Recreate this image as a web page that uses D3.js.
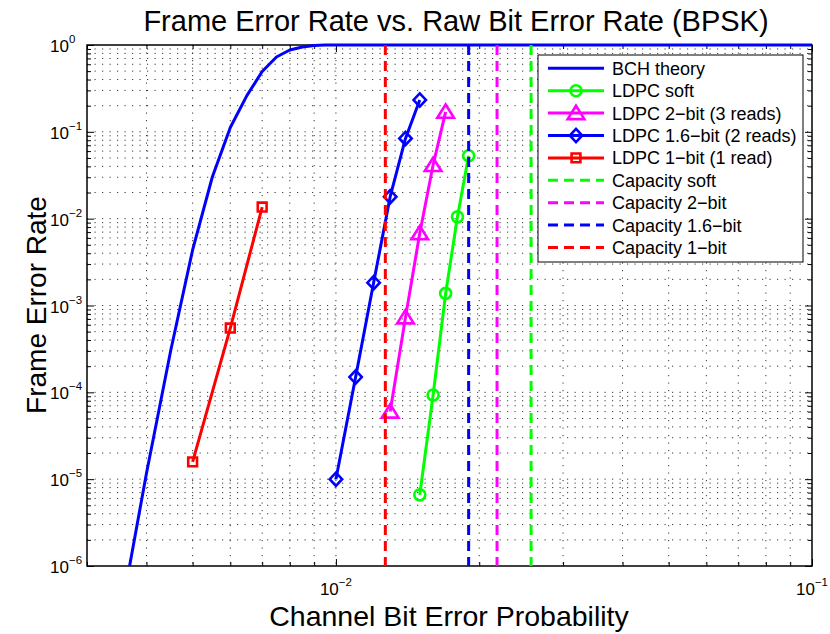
<!DOCTYPE html>
<html>
<head>
<meta charset="utf-8">
<script src="https://cdn.jsdelivr.net/npm/d3@7"></script>
<style>
  body { margin: 0; background: #fff; }
  svg { display: block; }
  text { font-family: "Liberation Sans", Arial, Helvetica, sans-serif; fill: #000; }
</style>
</head>
<body>
<svg id="chart" width="830" height="634"></svg>
<script>
// ---- data ----
const bchBer = [0.0035, 0.004, 0.0045, 0.005, 0.0055, 0.006, 0.0065, 0.007, 0.0075, 0.008, 0.0085, 0.009, 0.0095, 0.01, 0.02, 0.05, 0.1];
const bchFer = [2.1e-7, 1.17e-5, 3.07e-4, 4.36e-3, 0.0302, 0.112, 0.261, 0.495, 0.727, 0.876, 0.95, 0.985, 0.997, 1, 1, 1, 1];

const softBer = [0.015, 0.016, 0.017, 0.018, 0.019];
const softFer = [6.6e-6, 9.3e-5, 1.38e-3, 1.05e-2, 5.3e-2];

const twoBitBer = [0.013, 0.014, 0.015, 0.016, 0.017];
const twoBitFer = [6.0e-5, 7.3e-4, 6.8e-3, 4.15e-2, 0.17];

const oneSixBer = [0.010, 0.011, 0.012, 0.013, 0.014, 0.015];
const oneSixFer = [1.0e-5, 1.5e-4, 1.83e-3, 1.79e-2, 8.4e-2, 0.233];

const oneBitBer = [0.005, 0.006, 0.007];
const oneBitFer = [1.58e-5, 5.5e-4, 1.36e-2];

const capacityNames = ["Capacity soft", "Capacity 2\u2212bit", "Capacity 1.6\u2212bit", "Capacity 1\u2212bit"];
const capacityBer = [0.0257, 0.0218, 0.0190, 0.0127];
const capacityColors = ["#00ff00", "#ff00ff", "#0000ff", "#ff0000"];

const xMajorTicks = [0.01, 0.1];
const xTickExponents = ["\u22122", "\u22121"];
const yMajorTicks = [1e-6, 1e-5, 1e-4, 1e-3, 1e-2, 1e-1, 1];
const yTickExponents = ["\u22126", "\u22125", "\u22124", "\u22123", "\u22122", "\u22121", "0"];

const titleText = "Frame Error Rate vs. Raw Bit Error Rate (BPSK)";
const xLabelText = "Channel Bit Error Probability";
const yLabelText = "Frame Error Rate";

// ---- layout ----
const svg = d3.select("#chart");
const plot = { left: 87, right: 812, top: 45, bottom: 566 };

const x = d3.scaleLog().domain([0.003, 0.1]).range([plot.left, plot.right]);
const y = d3.scaleLog().domain([1e-6, 1]).range([plot.bottom, plot.top]);

// every tick position (majors plus 2..9 minors) inside the domain
function logTicks(lo, hi) {
  const out = [];
  for (let e = Math.floor(Math.log10(lo)); e <= Math.ceil(Math.log10(hi)); e++) {
    for (let m = 1; m <= 9; m++) {
      const v = m * Math.pow(10, e);
      if (v >= lo * 0.9999 && v <= hi * 1.0001) out.push(v);
    }
  }
  return out;
}
const xAll = logTicks(0.003, 0.1);
const yAll = logTicks(1e-6, 1);
const isMajor = v => Math.abs(Math.log10(v) - Math.round(Math.log10(v))) < 1e-9;

// ---- dotted grid ----
const grid = svg.append("g").attr("class", "grid")
  .attr("stroke", "#222").attr("stroke-width", 0.9).attr("stroke-dasharray", "1.2,6.3");
grid.selectAll("line.gx").data(xAll.filter(v => v > 0.003 && v < 0.1)).join("line")
  .attr("x1", d => x(d)).attr("x2", d => x(d))
  .attr("y1", plot.top).attr("y2", plot.bottom);
grid.selectAll("line.gy").data(yAll.filter(v => v > 1e-6 && v < 1)).join("line")
  .attr("x1", plot.left).attr("x2", plot.right)
  .attr("y1", d => y(d)).attr("y2", d => y(d));

// ---- axes box with inward ticks on all four sides ----
const majLen = 7, minLen = 4;
function addAxis(axisFn, scale, values, len, transform) {
  const g = svg.append("g").attr("transform", transform)
    .call(axisFn(scale).tickValues(values).tickSize(-len).tickFormat(""));
  g.select(".domain").remove();
  g.selectAll(".tick line").attr("stroke", "#000").attr("stroke-width", 1);
  return g;
}
const xMin = xAll.filter(v => !isMajor(v)), yMin = yAll.filter(v => !isMajor(v));
addAxis(d3.axisBottom, x, xMajorTicks, majLen, `translate(0,${plot.bottom})`);
addAxis(d3.axisBottom, x, xMin, minLen, `translate(0,${plot.bottom})`);
addAxis(d3.axisTop, x, xMajorTicks, majLen, `translate(0,${plot.top})`);
addAxis(d3.axisTop, x, xMin, minLen, `translate(0,${plot.top})`);
addAxis(d3.axisLeft, y, yMajorTicks, majLen, `translate(${plot.left},0)`);
addAxis(d3.axisLeft, y, yMin, minLen, `translate(${plot.left},0)`);
addAxis(d3.axisRight, y, yMajorTicks, majLen, `translate(${plot.right},0)`);
addAxis(d3.axisRight, y, yMin, minLen, `translate(${plot.right},0)`);

svg.append("rect")
  .attr("x", plot.left).attr("y", plot.top)
  .attr("width", plot.right - plot.left).attr("height", plot.bottom - plot.top)
  .attr("fill", "none").attr("stroke", "#000").attr("stroke-width", 1.5);

// ---- tick labels: 10 with superscript exponent ----
const xLab = svg.append("g");
xMajorTicks.forEach((v, i) => {
  const t = xLab.append("text").attr("x", x(v)).attr("y", 595)
    .attr("text-anchor", "middle").attr("font-size", 17);
  t.append("tspan").text("10");
  t.append("tspan").attr("dy", -9).attr("font-size", 11.5).text(xTickExponents[i]);
});
const yLab = svg.append("g");
yMajorTicks.forEach((v, i) => {
  const t = yLab.append("text").attr("x", 50).attr("y", y(v) + 7)
    .attr("text-anchor", "start").attr("font-size", 17);
  t.append("tspan").text("10");
  t.append("tspan").attr("dy", -9).attr("font-size", 11.5).text(yTickExponents[i]);
});

// ---- titles ----
svg.append("text").attr("x", 456).attr("y", 31).attr("text-anchor", "middle")
  .attr("font-size", 29).text(titleText);
svg.append("text").attr("x", 449).attr("y", 626).attr("text-anchor", "middle")
  .attr("font-size", 28.5).text(xLabelText);
svg.append("text").attr("transform", "translate(46,305) rotate(-90)")
  .attr("text-anchor", "middle").attr("font-size", 28).text(yLabelText);

// ---- data layer ----
svg.append("clipPath").attr("id", "plotClip").append("rect")
  .attr("x", plot.left - 2).attr("y", plot.top - 3)
  .attr("width", plot.right - plot.left + 4).attr("height", plot.bottom - plot.top + 3);
const data = svg.append("g").attr("clip-path", "url(#plotClip)");

const line = d3.line().x(d => x(d[0])).y(d => y(d[1]));
const zip = (a, b) => a.map((v, i) => [v, b[i]]);

function markerPath(type) {
  switch (type) {
    case "circle": return d3.symbol().type(d3.symbolCircle).size(Math.PI * 5.5 * 5.5)();
    case "square": return "M-4.4,-4.4H4.4V4.4H-4.4Z";
    case "diamond": return "M0,-6.6L6.2,0L0,6.6L-6.2,0Z";
    case "triangle": return "M0,-7.3L8.3,6L-8.3,6Z";
  }
  return "";
}

const series = [
  { name: "LDPC soft", ber: softBer, fer: softFer, color: "#00ff00", marker: "circle" },
  { name: "LDPC 2\u2212bit (3 reads)", ber: twoBitBer, fer: twoBitFer, color: "#ff00ff", marker: "triangle" },
  { name: "LDPC 1.6\u2212bit (2 reads)", ber: oneSixBer, fer: oneSixFer, color: "#0000ff", marker: "diamond" },
  { name: "LDPC 1\u2212bit (1 read)", ber: oneBitBer, fer: oneBitFer, color: "#ff0000", marker: "square" }
];

// BCH theory curve
data.append("path").datum(zip(bchBer, bchFer))
  .attr("d", line).attr("fill", "none").attr("stroke", "#0000ff")
  .attr("stroke-width", 3).attr("stroke-linejoin", "round");

// LDPC curves with open markers
series.forEach(s => {
  const pts = zip(s.ber, s.fer);
  const g = data.append("g");
  g.append("path").datum(pts).attr("d", line).attr("fill", "none")
    .attr("stroke", s.color).attr("stroke-width", 3).attr("stroke-linejoin", "round");
  g.selectAll("path.mk").data(pts).join("path").attr("class", "mk")
    .attr("transform", d => `translate(${x(d[0])},${y(d[1])})`)
    .attr("d", markerPath(s.marker)).attr("fill", "none")
    .attr("stroke", s.color).attr("stroke-width", 2.6);
});

// capacity limits
data.selectAll("line.cap").data(capacityBer).join("line").attr("class", "cap")
  .attr("x1", d => x(d)).attr("x2", d => x(d))
  .attr("y1", plot.top).attr("y2", plot.bottom)
  .attr("stroke", (d, i) => capacityColors[i]).attr("stroke-width", 3)
  .attr("stroke-dasharray", "10,6");

// ---- legend ----
const legendItems = [{ name: "BCH theory", color: "#0000ff", marker: null, dashed: false }]
  .concat(series.map(s => ({ name: s.name, color: s.color, marker: s.marker, dashed: false })))
  .concat(capacityNames.map((n, i) => ({ name: n, color: capacityColors[i], marker: null, dashed: true })));

const lg = svg.append("g");
lg.append("rect").attr("x", 538).attr("y", 55).attr("width", 265).attr("height", 207)
  .attr("fill", "#fff").attr("stroke", "#000").attr("stroke-width", 1);
const rowY = i => 68.3 + i * 22.4;
legendItems.forEach((it, i) => {
  const yy = rowY(i);
  lg.append("line").attr("x1", 548).attr("x2", 604).attr("y1", yy).attr("y2", yy)
    .attr("stroke", it.color).attr("stroke-width", 3)
    .attr("stroke-dasharray", it.dashed ? "10,6" : null);
  if (it.marker) {
    lg.append("path").attr("transform", `translate(576,${yy})`).attr("d", markerPath(it.marker))
      .attr("fill", "none").attr("stroke", it.color).attr("stroke-width", 2.6);
  }
  lg.append("text").attr("x", 612).attr("y", yy + 6.5).attr("font-size", 18).text(it.name);
});
</script>
</body>
</html>
